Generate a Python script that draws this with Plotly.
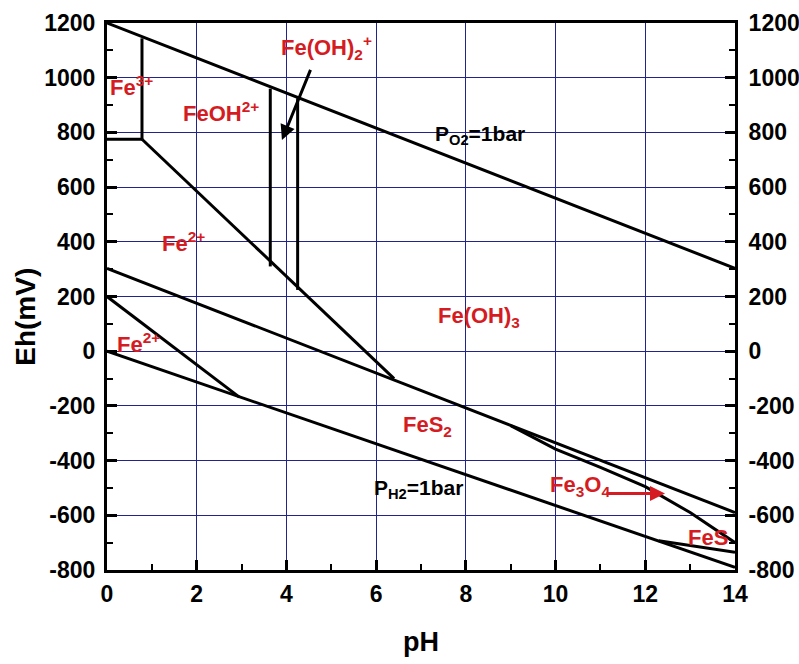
import plotly.graph_objects as go

# Eh-pH stability boundaries for the Fe-S-H2O system (pH, Eh in mV)
o2_ph, o2_eh = [0, 14], [1200, 303]                 # water upper limit, P_O2 = 1 bar
h2_ph, h2_eh = [0, 14], [0, -790]                   # water lower limit, P_H2 = 1 bar
fe3_fe2_ph, fe3_fe2_eh = [0, 0.78], [775, 775]      # Fe3+ / Fe2+
fe3_feoh_ph, fe3_feoh_eh = [0.78, 0.78], [775, 1144]  # Fe3+ / FeOH2+
feoh_fe2_ph, feoh_fe2_eh = [0.78, 6.4], [775, -100]   # ferric species / Fe2+
feoh_feoh2_ph, feoh_feoh2_eh = [3.64, 3.64], [310, 960]   # FeOH2+ / Fe(OH)2+
feoh2_feoh3_ph, feoh2_feoh3_eh = [4.25, 4.25], [224, 925]  # Fe(OH)2+ / Fe(OH)3
upper_fes2_ph, upper_fes2_eh = [0, 14], [303, -590]   # Fe2+ / FeS2 and Fe(OH)3 / FeS2
lower_fes2_ph, lower_fes2_eh = [0, 2.95], [200, -168]  # FeS2 / Fe2+ (lower)
fe3o4_ph = [9.0, 10, 11, 12, 13, 14]
fe3o4_eh = [-272, -358, -425, -495, -590, -700]       # FeS2 / Fe3O4
fes_ph, fes_eh = [12.3, 14], [-693, -735]             # FeS lower boundary

boundaries = [
    (o2_ph, o2_eh), (h2_ph, h2_eh), (fe3_fe2_ph, fe3_fe2_eh),
    (fe3_feoh_ph, fe3_feoh_eh), (feoh_fe2_ph, feoh_fe2_eh),
    (feoh_feoh2_ph, feoh_feoh2_eh), (feoh2_feoh3_ph, feoh2_feoh3_eh),
    (upper_fes2_ph, upper_fes2_eh), (lower_fes2_ph, lower_fes2_eh),
    (fe3o4_ph, fe3o4_eh), (fes_ph, fes_eh),
]

# axis ticks (Eh labels use a plain hyphen for negatives)
ph_ticks = [0, 2, 4, 6, 8, 10, 12, 14]
eh_ticks = [-800, -600, -400, -200, 0, 200, 400, 600, 800, 1000, 1200]
eh_ticktext = [str(v) for v in eh_ticks]

RED = "#d41c22"
FONT = "Liberation Sans"

fig = go.Figure()
for ph, eh in boundaries:
    fig.add_trace(go.Scatter(x=ph, y=eh, mode="lines",
                             line=dict(color="black", width=3),
                             hoverinfo="skip", showlegend=False))

# hidden trace so the right-hand Eh axis is rendered
fig.add_trace(go.Scatter(x=[0], y=[0], yaxis="y2", mode="markers",
                         marker=dict(opacity=0), showlegend=False, hoverinfo="skip"))

tickfont = dict(family=FONT, size=23, color="black", weight="bold")
grid = "#23238c"
minor_y = dict(dtick=100, ticks="inside", ticklen=6, tickwidth=2, tickcolor="black", showgrid=False)

fig.update_layout(
    width=799, height=664,
    margin=dict(l=107, r=64, t=23, b=94, autoexpand=False),
    paper_bgcolor="white", plot_bgcolor="white",
    xaxis=dict(range=[0, 14], tickvals=ph_ticks, showgrid=True, gridcolor=grid, gridwidth=1,
               zeroline=False, showline=True, linecolor="black", linewidth=3, mirror=True,
               ticks="inside", ticklen=10, tickwidth=3, tickcolor="black",
               minor=dict(dtick=1, ticks="inside", ticklen=6, tickwidth=2, tickcolor="black", showgrid=False),
               tickfont=tickfont, ticklabelstandoff=1, automargin=False),
    yaxis=dict(range=[-800, 1200], tickvals=eh_ticks, ticktext=eh_ticktext,
               showgrid=True, gridcolor=grid, gridwidth=1,
               zeroline=False, showline=True, linecolor="black", linewidth=3,
               ticks="inside", ticklen=10, tickwidth=3, tickcolor="black",
               minor=minor_y, tickfont=tickfont, ticklabelstandoff=4, automargin=False),
    yaxis2=dict(range=[-800, 1200], tickvals=eh_ticks, ticktext=eh_ticktext,
                overlaying="y", side="right",
                showgrid=False, zeroline=False, showline=True, linecolor="black", linewidth=3,
                ticks="inside", ticklen=10, tickwidth=3, tickcolor="black",
                minor=minor_y, tickfont=tickfont, ticklabelstandoff=6, automargin=False),
)

def label(x, y, text, color=RED, size=22):
    fig.add_annotation(x=x, y=y, xref="x", yref="y", text=text, showarrow=False,
                       xanchor="left", yanchor="middle",
                       font=dict(family=FONT, size=size, color=color, weight="bold"))

label(0.02, 970, "Fe<sup>3+</sup>")
label(1.66, 873, "FeOH<sup>2+</sup>")
label(3.83, 1109, "Fe(OH)<sub>2</sub><sup>+</sup>")
label(1.18, 399, "Fe<sup>2+</sup>")
label(0.18, 30, "Fe<sup>2+</sup>")
label(7.33, 125, "Fe(OH)<sub>3</sub>")
label(6.55, -273, "FeS<sub>2</sub>")
label(9.83, -493, "Fe<sub>3</sub>O<sub>4</sub>")
label(12.90, -681, "FeS")
label(7.27, 792, "P<sub>O2</sub>=1bar", color="black", size=21)
label(5.90, -502, "P<sub>H2</sub>=1bar", color="black", size=21)

# pointer from the Fe(OH)2+ label into its narrow field
fig.add_annotation(x=3.90, y=772, ax=4.55, ay=1034, xref="x", yref="y", axref="x", ayref="y",
                   text="", showarrow=True, arrowhead=2, arrowsize=1, arrowwidth=3,
                   arrowcolor="black")
# pointer from the Fe3O4 label
fig.add_annotation(x=12.44, y=-520, ax=11.1, ay=-520, xref="x", yref="y", axref="x", ayref="y",
                   text="", showarrow=True, arrowhead=2, arrowsize=1, arrowwidth=3,
                   arrowcolor=RED)

# axis titles
fig.add_annotation(x=-0.131, y=0.4625, xref="paper", yref="paper", text="Eh(mV)",
                   textangle=-90, showarrow=False, xanchor="center", yanchor="middle",
                   font=dict(family=FONT, size=28, color="black", weight="bold"))
fig.add_annotation(x=0.5, y=-0.1316, xref="paper", yref="paper", text="pH",
                   showarrow=False, xanchor="center", yanchor="middle",
                   font=dict(family=FONT, size=27, color="black", weight="bold"))

fig.write_html("out.html")
